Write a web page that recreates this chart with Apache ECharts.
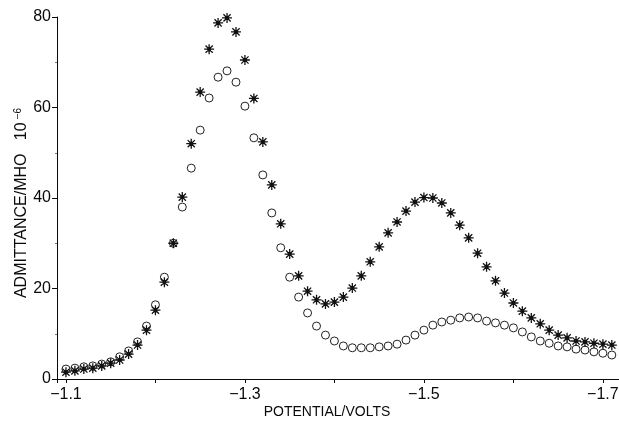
<!DOCTYPE html>
<html>
<head>
<meta charset="utf-8">
<script src="https://cdn.jsdelivr.net/npm/echarts@6/dist/echarts.min.js"></script>
<style>
html,body{margin:0;padding:0;background:#fff;}
#chart{width:619px;height:434px;}
</style>
</head>
<body>
<div id="chart"></div>
<script>
// Potential (V) for each measured point
const potentials = [-1.10,-1.11,-1.12,-1.13,-1.14,-1.15,-1.16,-1.17,-1.18,-1.19,
  -1.20,-1.21,-1.22,-1.23,-1.24,-1.25,-1.26,-1.27,-1.28,-1.29,
  -1.30,-1.31,-1.32,-1.33,-1.34,-1.35,-1.36,-1.37,-1.38,-1.39,
  -1.40,-1.41,-1.42,-1.43,-1.44,-1.45,-1.46,-1.47,-1.48,-1.49,
  -1.50,-1.51,-1.52,-1.53,-1.54,-1.55,-1.56,-1.57,-1.58,-1.59,
  -1.60,-1.61,-1.62,-1.63,-1.64,-1.65,-1.66,-1.67,-1.68,-1.69,
  -1.70,-1.71];
// Admittance (10^-6 mho), asterisk series
const starValues = [1.5,1.8,2.2,2.4,2.9,3.5,4.2,5.5,7.5,10.8,
  15.2,21.4,30.0,40.2,52.0,63.4,72.9,78.7,79.8,76.7,
  70.5,62.0,52.4,42.9,34.3,27.6,22.8,19.4,17.5,16.6,
  17.0,18.1,20.1,22.8,25.9,29.2,32.3,34.7,37.1,39.1,
  40.1,40.0,38.9,36.7,34.0,31.2,27.8,24.8,21.7,19.0,
  16.8,15.0,13.5,12.2,10.8,9.7,9.1,8.4,8.2,7.9,
  7.7,7.5];
// Admittance (10^-6 mho), open circle series
const circleValues = [2.2,2.4,2.7,2.9,3.3,3.8,4.9,6.2,8.2,11.7,
  16.4,22.5,30.0,38.0,46.6,55.0,62.1,66.7,68.1,65.6,
  60.3,53.3,45.1,36.7,29.0,22.5,18.1,14.6,11.7,9.7,
  8.4,7.3,6.9,6.9,6.9,7.1,7.3,7.7,8.6,9.7,
  10.8,11.9,12.6,13.0,13.5,13.7,13.5,12.8,12.4,11.9,
  11.3,10.4,9.3,8.4,7.9,7.3,7.1,6.6,6.4,6.0,
  5.7,5.3];
const xTickLabels = [-1.1,-1.3,-1.5,-1.7];
const yTickLabels = [0,20,40,60,80];

const font = '"Liberation Sans", Arial, Helvetica, sans-serif';
const ink = '#0a0a0a';

const starPath = 'path://M0,-5L0,5M-5,0L5,0M-3.6,-3.6L3.6,3.6M-3.6,3.6L3.6,-3.6M-1.6,0A1.6,1.6 0 1,0 1.6,0A1.6,1.6 0 1,0 -1.6,0Z';

const chart = echarts.init(document.getElementById('chart'), null, {renderer:'canvas'});
chart.setOption({
  animation: false,
  backgroundColor: '#ffffff',
  grid: {left: 57, right: 0, top: 17, bottom: 55, containLabel: false, outerBoundsMode: 'none'},
  xAxis: {
    type: 'value',
    inverse: true,
    min: -1.718,
    max: -1.09,
    splitNumber: 6,
    name: 'POTENTIAL/VOLTS',
    nameLocation: 'middle',
    nameGap: 26,
    nameMoveOverlap: false,
    nameTextStyle: {fontFamily: font, fontSize: 14, color: ink, padding: [0, 22, 0, 0]},
    axisLine: {show: true, onZero: false, lineStyle: {color: ink, width: 1}},
    axisTick: {show: true, length: 4, lineStyle: {color: ink, width: 1}},
    splitLine: {show: false},
    axisLabel: {
      margin: 8,
      fontFamily: font, fontSize: 16, color: ink,
      formatter: function (v) {
        const k = Math.round(-v * 10) / 10;
        if (Math.abs(-v - k) > 1e-6) return '';
        for (const t of xTickLabels) {
          if (Math.abs(t - v) < 1e-6) return '\u2212' + Math.abs(t).toFixed(1);
        }
        return '';
      }
    }
  },
  yAxis: {
    type: 'value',
    min: 0,
    max: 80,
    interval: 20,
    name: '{a|ADMITTANCE/MHO   10}{s|\u22126}',
    nameLocation: 'middle',
    nameGap: 27,
    nameMoveOverlap: false,
    nameTextStyle: {
      fontFamily: font, fontSize: 16, color: ink, padding: [0, 10, 0, 0],
      rich: {
        a: {fontFamily: font, fontSize: 16, color: ink, lineHeight: 17},
        s: {fontFamily: font, fontSize: 10, color: ink, verticalAlign: 'top', lineHeight: 17, padding: [0, 0, 6, 3]}
      }
    },
    axisLine: {show: true, lineStyle: {color: ink, width: 1}},
    axisTick: {show: true, length: 5, lineStyle: {color: ink, width: 1}},
    minorTick: {show: true, splitNumber: 2, length: 2, lineStyle: {color: '#777', width: 1}},
    splitLine: {show: false},
    axisLabel: {
      margin: 6,
      fontFamily: font, fontSize: 16, color: ink,
      formatter: function (v) { return yTickLabels.indexOf(v) >= 0 ? String(v) : ''; }
    }
  },
  series: [
    {
      name: 'circles',
      type: 'scatter',
      data: potentials.map((p, i) => [p, circleValues[i]]),
      symbol: 'circle',
      symbolSize: 8,
      itemStyle: {color: '#ffffff', borderColor: '#222', borderWidth: 1, opacity: 1},
      z: 2
    },
    {
      name: 'stars',
      type: 'scatter',
      data: potentials.map((p, i) => [p, starValues[i]]),
      symbol: starPath,
      symbolSize: 10,
      itemStyle: {color: '#111', borderColor: '#111', borderWidth: 1.3, opacity: 1},
      z: 3
    }
  ]
});
</script>
</body>
</html>
